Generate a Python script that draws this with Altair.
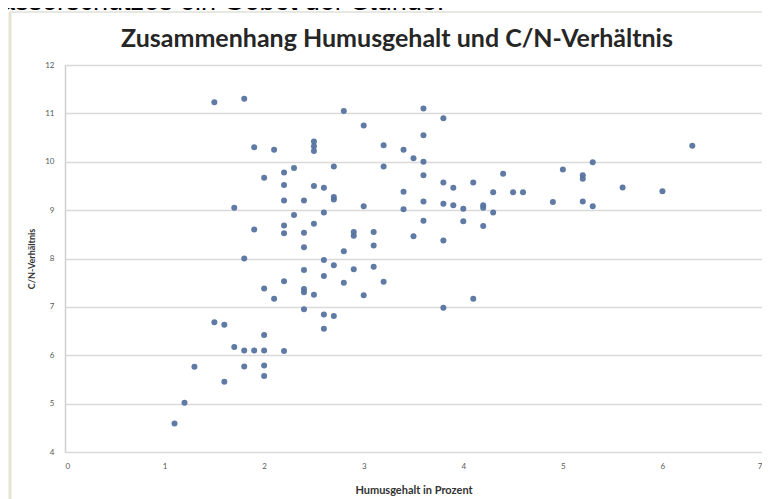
import altair as alt
import pandas as pd

# ---- data ----
humus = [
    1.5, 1.8, 1.9, 2.1, 2.5, 2.5, 2.5, 2.3, 2.2, 2.0, 2.2, 2.5, 2.2, 2.4, 1.7, 2.3,
    2.5, 1.9, 2.2, 2.2, 2.4, 2.4, 1.8, 2.4, 2.2, 2.0, 2.1, 2.4, 2.4, 2.5, 2.4, 1.5,
    1.6, 2.0, 1.7, 1.8, 1.9, 2.0, 2.2, 1.3, 1.8, 2.0, 2.0, 1.6, 1.2, 1.1,
    2.8, 3.0, 3.6, 3.8, 3.6, 3.2, 3.4, 3.5, 3.6, 2.7, 3.2, 3.6, 4.4, 3.8, 4.1, 2.6,
    3.9, 3.4, 4.3, 4.5, 4.6, 2.7, 2.7, 3.6, 3.8, 3.9, 3.0, 3.4, 4.0, 4.2, 4.2, 4.3,
    2.6, 3.6, 4.0, 4.2, 2.9, 2.9, 3.1, 3.5, 3.8, 3.1, 2.8, 2.6, 2.7, 2.9, 3.1, 2.6,
    2.8, 3.2, 3.0, 4.1, 3.8, 2.6, 2.7, 2.6,
    5.0, 5.3, 5.2, 5.2, 4.9, 5.2, 5.3, 5.6, 6.0, 6.3,
]
cn = [
    11.23, 11.3, 10.3, 10.25, 10.42, 10.32, 10.22, 9.87, 9.78, 9.67, 9.52, 9.5, 9.2, 9.2, 9.05, 8.9,
    8.72, 8.6, 8.68, 8.52, 8.53, 8.23, 8.0, 7.76, 7.53, 7.38, 7.17, 7.37, 7.3, 7.25, 6.95, 6.68,
    6.63, 6.42, 6.17, 6.1, 6.1, 6.1, 6.09, 5.76, 5.77, 5.79, 5.57, 5.45, 5.02, 4.59,
    11.05, 10.75, 11.1, 10.9, 10.55, 10.34, 10.25, 10.07, 10.0, 9.9, 9.9, 9.72, 9.75, 9.57, 9.57, 9.46,
    9.46, 9.38, 9.37, 9.37, 9.37, 9.27, 9.22, 9.18, 9.13, 9.1, 9.08, 9.02, 9.03, 9.1, 9.05, 8.95,
    8.95, 8.78, 8.77, 8.67, 8.55, 8.47, 8.55, 8.46, 8.37, 8.27, 8.15, 7.97, 7.86, 7.78, 7.83, 7.64,
    7.5, 7.52, 7.24, 7.17, 6.98, 6.84, 6.81, 6.55,
    9.84, 9.99, 9.72, 9.65, 9.17, 9.18, 9.08, 9.47, 9.39, 10.33,
]
x_ticks = [0, 1, 2, 3, 4, 5, 6, 7]
y_ticks = [4, 5, 6, 7, 8, 9, 10, 11, 12]
chart_title = ["Zusammenhang Humusgehalt und C/N-Verhältnis"]
x_title = "Humusgehalt in Prozent"
y_title = "C/N-Verhältnis"
top_text = ["asserschutzes ein Gebot der Stunde."]

df = pd.DataFrame({"Humus": humus, "CN": cn})
one = pd.DataFrame({"t": top_text})
title_df = pd.DataFrame({"t": chart_title})

W, H = 697, 387
PAD_L, PAD_T = 57, 57

frame_left = alt.Chart(one).mark_rule(color="#e6e4d0", strokeWidth=3).encode(
    x=alt.value(2 - PAD_L), y=alt.value(4 - PAD_T), y2=alt.value(520 - PAD_T),
)
frame_top = alt.Chart(one).mark_rule(color="#e8e8e2", strokeWidth=2).encode(
    x=alt.value(2 - PAD_L), x2=alt.value(800 - PAD_L), y=alt.value(4 - PAD_T),
)

cut_text = alt.Chart(one).mark_text(
    align="left", baseline="alphabetic", font="Liberation Sans",
    fontSize=27, color="#000000"
).encode(
    x=alt.value(-8 - PAD_L), y=alt.value(2 - PAD_T), text="t:N"
)

title_mark = alt.Chart(title_df).mark_text(
    align="center", baseline="alphabetic", font="Lato",
    fontSize=25, fontWeight="bold", color="#262626"
).encode(
    x=alt.value(389 - PAD_L), y=alt.value(39 - PAD_T), text="t:N"
)

points = alt.Chart(df).mark_circle(size=36, color="#56739f", opacity=0.95).encode(
    x=alt.X(
        "Humus:Q",
        scale=alt.Scale(domain=[0, 7], nice=False, zero=False),
        axis=alt.Axis(
            values=x_ticks, title=x_title, grid=False, ticks=False, domain=False,
            labelFontSize=8, labelColor="#595959", labelPadding=10,
            labelFont="Lato", labelFlush=True,
            titleFont="Lato", titleFontSize=11, titleFontWeight="bold",
            titleColor="#333333", titlePadding=14,
        ),
    ),
    y=alt.Y(
        "CN:Q",
        scale=alt.Scale(domain=[4, 12], nice=False, zero=False),
        axis=alt.Axis(
            values=y_ticks, title=y_title, grid=True, gridColor="#d9d9d9",
            gridWidth=1.5, ticks=False, domain=True, domainColor="#d0d0d0",
            domainWidth=1.5,
            labelFontSize=8, labelColor="#595959", labelPadding=11,
            labelFont="Lato",
            titleFont="Lato", titleFontSize=9, titleFontWeight="bold",
            titleColor="#333333", titlePadding=8,
        ),
    ),
)

chart = alt.layer(frame_left, frame_top, cut_text, title_mark, points).properties(
    width=W, height=H,
    autosize=alt.AutoSizeParams(type="none"),
    padding={"left": PAD_L, "top": PAD_T, "right": 0, "bottom": 48},
).configure_view(stroke=None).configure(background="#ffffff")

chart.save("out.html", embed_options={"renderer": "svg", "actions": False})
